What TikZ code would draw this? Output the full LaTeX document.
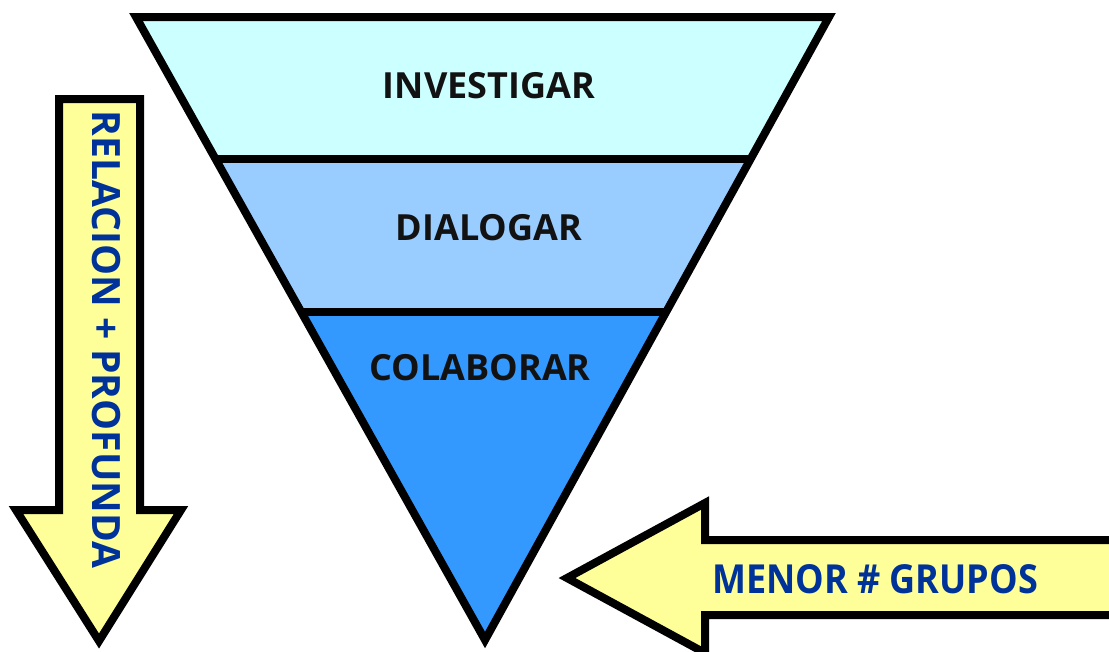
\documentclass[tikz,border=0pt]{standalone}
\usepackage{fontspec}
\setmainfont{Open Sans}
\newfontfamily\menorfont[FakeStretch=0.9]{Open Sans}
\usetikzlibrary{calc}
\definecolor{lvlone}{HTML}{CCFFFF}
\definecolor{lvltwo}{HTML}{99CCFF}
\definecolor{lvlthree}{HTML}{3399FF}
\definecolor{arrowfill}{HTML}{FFFF99}
\definecolor{labelblue}{HTML}{003399}
\begin{document}
\begin{tikzpicture}[x=1pt,y=-1pt,
  outline/.style={draw=black,line width=8pt,line join=miter},
  lvltext/.style={font=\fontsize{36}{40}\selectfont\bfseries,text=black!93,inner sep=0pt},
  arrowtext/.style={text=labelblue,inner sep=0pt}]
\useasboundingbox (0,0) rectangle (1109,651);
\clip (0,0) rectangle (1109,651);
% funnel
\coordinate (TL) at (136,17);
\coordinate (TR) at (829,17);
\coordinate (AP) at (485,640);
\coordinate (L1) at ($(TL)!0.2287!(AP)$);
\coordinate (R1) at ($(TR)!0.2287!(AP)$);
\coordinate (L2) at ($(TL)!0.4735!(AP)$);
\coordinate (R2) at ($(TR)!0.4735!(AP)$);
\fill[lvlone] (TL) -- (TR) -- (R1) -- (L1) -- cycle;
\fill[lvltwo] (L1) -- (R1) -- (R2) -- (L2) -- cycle;
\fill[lvlthree] (L2) -- (R2) -- (AP) -- cycle;
\draw[outline] (L1) -- (R1) (L2) -- (R2);
\draw[outline] (TL) -- (TR) -- (AP) -- cycle;
\node[lvltext] (inv) at (489,86) {INVESTIGAR};
\node[lvltext] (dia) at (489,228) {DIALOGAR};
\node[lvltext] (col) at (480,368) {COLABORAR};
% left arrow
\draw[outline,fill=arrowfill] (59,99) -- (140,99) -- (140,510) -- (181,510) -- (99,641) -- (16,510) -- (59,510) -- cycle;
\node[arrowtext,font=\fontsize{39}{43}\selectfont\bfseries,rotate=-90] (rel) at (106,339.5) {RELACION + PROFUNDA};
% right arrow
\draw[outline,fill=arrowfill] (1140,540) -- (705,540) -- (705,503) -- (567,578) -- (705,653) -- (705,615) -- (1140,615) -- cycle;
\node[arrowtext,font=\menorfont\fontsize{40}{44}\selectfont\bfseries] (men) at (875,578.7) {MENOR \# GRUPOS};
\end{tikzpicture}
\end{document}
